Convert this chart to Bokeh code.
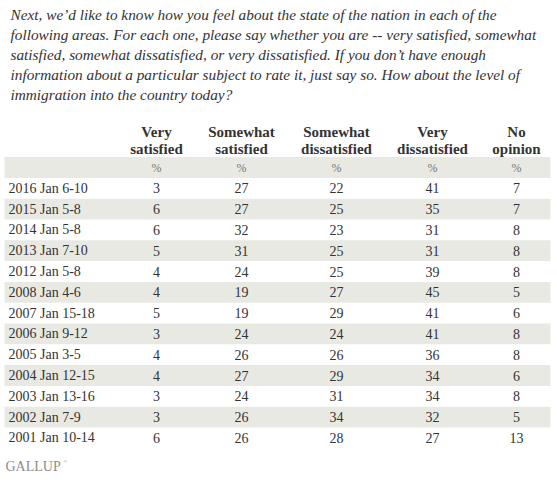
from bokeh.plotting import figure
from bokeh.models import Range1d
from bokeh.core.properties import value
from bokeh.embed import file_html
from bokeh.resources import INLINE

question = [
    "Next, we\u2019d like to know how you feel about the state of the nation in each of the",
    "following areas. For each one, please say whether you are -- very satisfied, somewhat",
    "satisfied, somewhat dissatisfied, or very dissatisfied. If you don\u2019t have enough",
    "information about a particular subject to rate it, just say so. How about the level of",
    "immigration into the country today?",
]
headers_top = ["Very", "Somewhat", "Somewhat", "Very", "No"]
headers_bot = ["satisfied", "satisfied", "dissatisfied", "dissatisfied", "opinion"]

dates = ["2016 Jan 6-10", "2015 Jan 5-8", "2014 Jan 5-8", "2013 Jan 7-10", "2012 Jan 5-8",
         "2008 Jan 4-6", "2007 Jan 15-18", "2006 Jan 9-12", "2005 Jan 3-5", "2004 Jan 12-15",
         "2003 Jan 13-16", "2002 Jan 7-9", "2001 Jan 10-14"]
very_sat = [3, 6, 6, 5, 4, 4, 5, 3, 4, 4, 3, 3, 6]
smw_sat = [27, 27, 32, 31, 24, 19, 19, 24, 26, 27, 24, 26, 26]
smw_dis = [22, 25, 23, 25, 25, 27, 29, 24, 26, 29, 31, 34, 28]
very_dis = [41, 35, 31, 31, 39, 45, 41, 41, 36, 34, 34, 32, 27]
no_op = [7, 7, 8, 8, 8, 5, 6, 8, 8, 6, 8, 5, 13]

W, H = 557, 483
p = figure(width=W, height=H, output_backend="svg", toolbar_location=None,
           x_range=Range1d(0, W), y_range=Range1d(H, 0),
           min_border=0, outline_line_color=None, background_fill_color="white",
           border_fill_color="white")
p.axis.visible = False
p.grid.visible = False

SERIF = value("Liberation Serif")
TXT = "#333333"

# question text
q_top, q_step = 14, 20
p.text(x=[10] * len(question), y=[q_top + q_step * i for i in range(len(question))],
       text=question, text_font=SERIF, text_font_size="15.3px", text_font_style="italic",
       text_color=TXT, text_baseline="middle", text_align="left")

# layout
col_x = [156, 241, 336, 432, 516]
row0, row_h = 167, 20.8
n_rows = len(dates) + 1

# bands (alternating, starting with % row)
band_idx = [i for i in range(n_rows) if i % 2 == 0]
p.quad(left=[4] * len(band_idx), right=[550] * len(band_idx),
       top=[row0 + row_h * i - row_h / 2 for i in band_idx],
       bottom=[row0 + row_h * i + row_h / 2 for i in band_idx],
       fill_color="#e9e9e4", line_color=None)

# headers
p.text(x=col_x, y=[131] * 5, text=headers_top, text_font=SERIF, text_font_size="15px",
       text_font_style="bold", text_color=TXT, text_baseline="middle", text_align="center")
p.text(x=col_x, y=[148] * 5, text=headers_bot, text_font=SERIF, text_font_size="15px",
       text_font_style="bold", text_color=TXT, text_baseline="middle", text_align="center")
p.text(x=col_x, y=[row0] * 5, text=["%"] * 5, text_font=SERIF, text_font_size="12px",
       text_color="#777777", text_baseline="middle", text_align="center")

# rows
ys = [row0 + row_h * (i + 1) for i in range(len(dates))]
p.text(x=[8] * len(dates), y=ys, text=dates, text_font=SERIF, text_font_size="14px",
       text_color=TXT, text_baseline="middle", text_align="left")
for cx, series in zip(col_x, [very_sat, smw_sat, smw_dis, very_dis, no_op]):
    p.text(x=[cx] * len(series), y=ys, text=[str(v) for v in series], text_font=SERIF,
           text_font_size="14px", text_color=TXT, text_baseline="middle", text_align="center")

# logo
p.text(x=[5], y=[466], text=["GALLUP"], text_font=SERIF, text_font_size="14px",
       text_color="#8c8c8c", text_baseline="middle", text_align="left")
p.text(x=[63], y=[461], text=["\u00ae"], text_font=SERIF, text_font_size="5px",
       text_color="#8c8c8c", text_baseline="middle", text_align="left")

open("out.html", "w").write(file_html(p, INLINE))
